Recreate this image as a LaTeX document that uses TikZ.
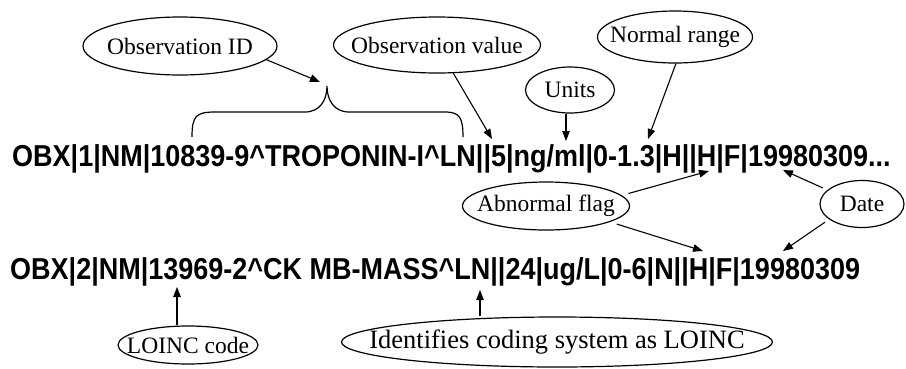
\documentclass[tikz,border=0pt]{standalone}
\usepackage{fontspec}
\setmainfont{Liberation Serif}
\newfontfamily\codefont{Liberation Sans}
\usetikzlibrary{shapes.geometric,arrows.meta}
\begin{document}
\begin{tikzpicture}[x=1pt,y=-1pt,
  ell/.style={draw, ellipse, line width=1.2pt, inner sep=0pt},
  lab/.style={font=\fontsize{23.5}{26}\selectfont, inner sep=0pt},
  arr/.style={-{Triangle[length=10pt,width=7.5pt]}, line width=1.1pt},
  codeline/.style={anchor=base west, inner sep=0pt, font=\codefont\bfseries\fontsize{27}{30}\selectfont}]
\useasboundingbox (0,0) rectangle (906,368);

% code lines
\node[codeline] (l1) at (12,166) {\scalebox{1}[1.12]{OBX|1|NM|10839-9\textasciicircum TROPONIN-I\textasciicircum LN||5|ng/ml|0-1.3|H||H|F|19980309...}};
\node[codeline] (l2) at (10,279) {\scalebox{1}[1.12]{OBX|2|NM|13969-2\textasciicircum CK MB-MASS\textasciicircum LN||24|ug/L|0-6|N||H|F|19980309}};

% ellipses
\node[ell, minimum width=194pt, minimum height=58pt, label={[lab]center:Observation ID}] (oid) at (180,46) {};
\node[ell, minimum width=207pt, minimum height=56pt, label={[lab]center:Observation value}] (oval) at (437,45) {};
\node[ell, minimum width=155pt, minimum height=52pt, label={[lab]center:Normal range}] (nrange) at (675,37) {};
\node[ell, minimum width=89pt, minimum height=46pt, label={[lab]center:Units}] (units) at (570,90) {};
\node[ell, minimum width=167pt, minimum height=48pt, label={[lab]center:Abnormal flag}] (abn) at (546,206) {};
\node[ell, minimum width=84pt, minimum height=47pt, label={[lab]center:Date}] (date) at (862,204) {};
\node[ell, minimum width=140pt, minimum height=38pt, label={[lab]center:LOINC code}] (loinc) at (188,345) {};
\node[ell, minimum width=431pt, minimum height=50pt, label={[lab, font=\fontsize{26.5}{29}\selectfont]center:Identifies coding system as LOINC}] (ident) at (557,342) {};

% brace over the observation ID
\draw[line width=1.2pt] (192,137) .. controls (192,116) and (196,112) .. (215,112) -- (305,112)
  .. controls (320,112) and (327,100) .. (327,86)
  .. controls (327,100) and (334,112) .. (349,112) -- (445,112)
  .. controls (460,112) and (463,118) .. (463,137);

% targets
\coordinate (tOid) at (320,82);
\coordinate (tVal) at (492,139);
\coordinate (tUnits) at (566,141);
\coordinate (tRange) at (648,139);
\coordinate (tFlag1) at (709,171);
\coordinate (tFlag2) at (703,251);
\coordinate (tDate1) at (783,170);
\coordinate (tDate2) at (783,251);
\coordinate (tLoinc) at (177,287);
\coordinate (tIdent) at (480,290);

% arrows
\draw[arr] (oid.-9) -- (tOid);
\draw[arr] (oval.-60) -- (tVal);
\draw[arr] (units.south -| tUnits) -- (tUnits);
\draw[arr] (nrange.-88) -- (tRange);
\draw[arr, shorten <=7pt] (abn.8) -- (tFlag1);
\draw[arr, shorten <=7pt] (abn.-14) -- (tFlag2);
\draw[arr, shorten <=5pt] (date.158) -- (tDate1);
\draw[arr, shorten <=5pt] (date.205) -- (tDate2);
\draw[arr] (loinc.north -| tLoinc) -- (tLoinc);
\draw[arr] (ident.north -| tIdent) -- (tIdent);
\end{tikzpicture}
\end{document}
